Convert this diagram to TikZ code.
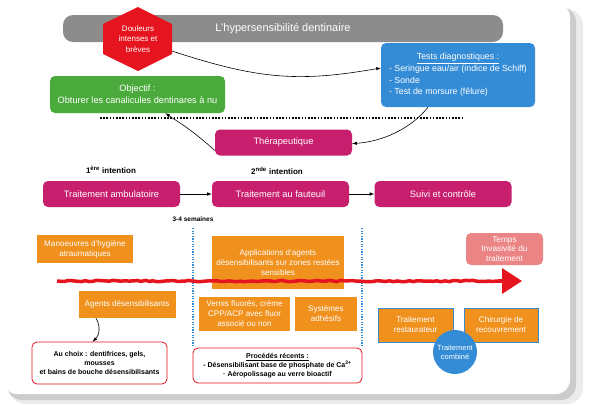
\documentclass[tikz,border=0pt]{standalone}
\usepackage{fontspec}
\setmainfont{Liberation Sans}
\usetikzlibrary{arrows.meta,decorations.pathmorphing}
\definecolor{hGray}{HTML}{8C8C8C}
\definecolor{hRed}{HTML}{E6141E}
\definecolor{hGreen}{HTML}{4BAA3C}
\definecolor{hBlue}{HTML}{348CD6}
\definecolor{hPink}{HTML}{C81E6E}
\definecolor{hOrange}{HTML}{F0911E}
\definecolor{hSalmon}{HTML}{EB8484}

\begin{document}
\begin{tikzpicture}[x=1pt,y=1pt,yscale=-1,>=latex]
		\tikzstyle{BOX} = [rounded corners=5pt, inner sep=2pt, align=center, text=white]
		\tikzstyle{title} = [BOX, fill=hGray, rounded corners=10pt, minimum width=440pt, minimum height=27pt, font=\fontsize{11}{13}\selectfont]
		\tikzstyle{goal} = [BOX, fill=hGreen, minimum width=175pt, minimum height=37pt, font=\fontsize{9.2}{12}\selectfont]
		\tikzstyle{diag} = [BOX, fill=hBlue, minimum width=154pt, minimum height=64pt, font=\fontsize{8.8}{11.5}\selectfont]
		\tikzstyle{phase} = [BOX, fill=hPink, minimum width=137pt, minimum height=26pt, font=\fontsize{9.3}{11}\selectfont]
		\tikzstyle{act} = [inner sep=2pt, align=center, text=white, fill=hOrange, font=\fontsize{8.1}{10}\selectfont]
		\tikzstyle{memo} = [BOX, draw=hRed, thick, fill=white, text=black, font=\bfseries\fontsize{7}{9}\selectfont]
		\tikzstyle{lbl} = [font=\bfseries\fontsize{8}{10}\selectfont]
		\tikzstyle{link} = [->, semithick]

		% card
		\useasboundingbox (0,0) rectangle (593,405);
		\fill[gray!15, rounded corners=16pt] (9,9) rectangle (583,404);
		\fill[gray!40, rounded corners=15pt] (7,7) rectangle (576,400);
		\fill[white, rounded corners=14pt] (3,3) rectangle (570,394);

		% top part
		\node[title] (head) at (283,28.5) {L'hypersensibilité dentinaire};
		\fill[hRed] (138,7) -- (172,24) -- (172,54) -- (138,71) -- (103,54) -- (103,24) -- cycle;
		\node[text=white, align=center, font=\fontsize{8}{10.5}\selectfont] (pain) at (138,39) {Douleurs\\intenses et\\brèves};
		\coordinate (painR) at (172,51);
		\node[goal] (obj) at (137.5,94.5) {Objectif :\\Obturer les canalicules dentinares à nu};
		\node[diag] (tests) at (458,75) {\begin{tabular}{@{}l@{}}\multicolumn{1}{c}{\underline{Tests diagnostiques :}}\\- Seringue eau/air (indice de Schiff)\\- Sonde\\- Test de morsure (fêlure)\end{tabular}};
		\coordinate (dotL) at (100,118);
		\coordinate (dotR) at (463,118);
		\draw[line width=1.6pt, dash pattern=on 1.6pt off 1.6pt] (dotL) -- (dotR);
		\node[phase] (thera) at (283.5,142.5) {Thérapeutique};
		\draw[link] (painR) .. controls (260,80) and (300,82) .. ([yshift=-7pt]tests.west);
		\draw[link] ([xshift=-30pt]tests.south) .. controls (410,130) and (380,142) .. ([yshift=1pt]thera.east);
		\draw[link] ([yshift=8pt]thera.west) .. controls (190,128) and (175,120) .. ([xshift=28pt]obj.south);

		% phases
		\node[lbl] (first) at (111,170) {1\textsuperscript{ère} intention};
		\node[lbl] (second) at (277,171) {2\textsuperscript{nde} intention};
		\node[phase] (amb) at (111.5,194) {Traitement ambulatoire};
		\node[phase] (chair) at (280.5,194) {Traitement au fauteuil};
		\node[phase] (follow) at (443,194) {Suivi et contrôle};
		\node[lbl, font=\bfseries\fontsize{6.5}{8}\selectfont] (weeks) at (193,219) {3-4 semaines};
		\draw[link] (amb) -- (chair);
		\draw[link] (chair) -- (follow);

		% separators
		\coordinate (sepAt) at (193,228);
		\coordinate (sepAb) at (193,347);
		\coordinate (sepBt) at (362,228);
		\coordinate (sepBb) at (362,347);
		\draw[hBlue, line width=1.2pt, dash pattern=on 1.2pt off 1.4pt] (sepAt) -- (sepAb);
		\draw[hBlue, line width=1.2pt, dash pattern=on 1.2pt off 1.4pt] (sepBt) -- (sepBb);

		% actions
		\node[act, minimum width=96pt, minimum height=28pt] (hyg) at (85,249) {Manoeuvres d'hygiène\\atraumatiques};
		\node[act, minimum width=97pt, minimum height=27pt] (agents) at (127,304.5) {Agents désensibilisants};
		\node[act, minimum width=132pt, minimum height=53pt] (appl) at (278,262.5) {Applications d'agents\\désensibilisants sur zones restées\\sensibles};
		\node[act, minimum width=91pt, minimum height=34pt] (varn) at (244.5,314) {Vernis fluorés, crème\\CPP/ACP avec fluor\\associé ou non};
		\node[act, minimum width=62pt, minimum height=34pt] (adh) at (326,314) {Systèmes\\adhésifs};
		\node[act, draw=hBlue, minimum width=75pt, minimum height=34pt] (resto) at (415.5,325) {Traitement\\restaurateur};
		\node[act, draw=hBlue, minimum width=74pt, minimum height=34pt] (surg) at (501,325) {Chirurgie de\\recouvrement};
		\node[circle, fill=hBlue, text=white, inner sep=0pt, minimum size=44pt, align=center, font=\fontsize{7.5}{9}\selectfont] (combo) at (455,352) {Traitement\\combiné};
		\node[BOX, fill=hSalmon, minimum width=77pt, minimum height=32pt, font=\fontsize{8.3}{9.5}\selectfont] (time) at (504.5,249) {Temps\\Invasivité du\\traitement};

		% time arrow
		\coordinate (tStart) at (57,281);
		\coordinate (tMid) at (502,281);
		\coordinate (tEnd) at (522,281);
		\draw[hRed, line width=3.5pt, decorate, decoration={random steps, segment length=4pt, amplitude=0.7pt}] (tStart) -- (tMid);
		\draw[hRed, line width=3.5pt, -{Triangle[length=20pt,width=25pt]}] ([xshift=-4pt]tMid) -- (tEnd);

		% notes
		\node[memo, minimum width=135pt, minimum height=42pt] (choice) at (99.5,363) {Au choix : dentifrices, gels,\\mousses\\et bains de bouche désensibilisants};
		\node[memo, minimum width=169pt, minimum height=35pt] (recent) at (277.5,365.5) {\underline{Procédés récents :}\\- Désensibilisant base de phosphate de Ca\textsuperscript{2+}\\· Aéropolissage au verre bioactif};
		\draw[link] ([xshift=-31pt]agents.south) to[bend right=40] ([xshift=-7pt]choice.north);
\end{tikzpicture}
\end{document}
